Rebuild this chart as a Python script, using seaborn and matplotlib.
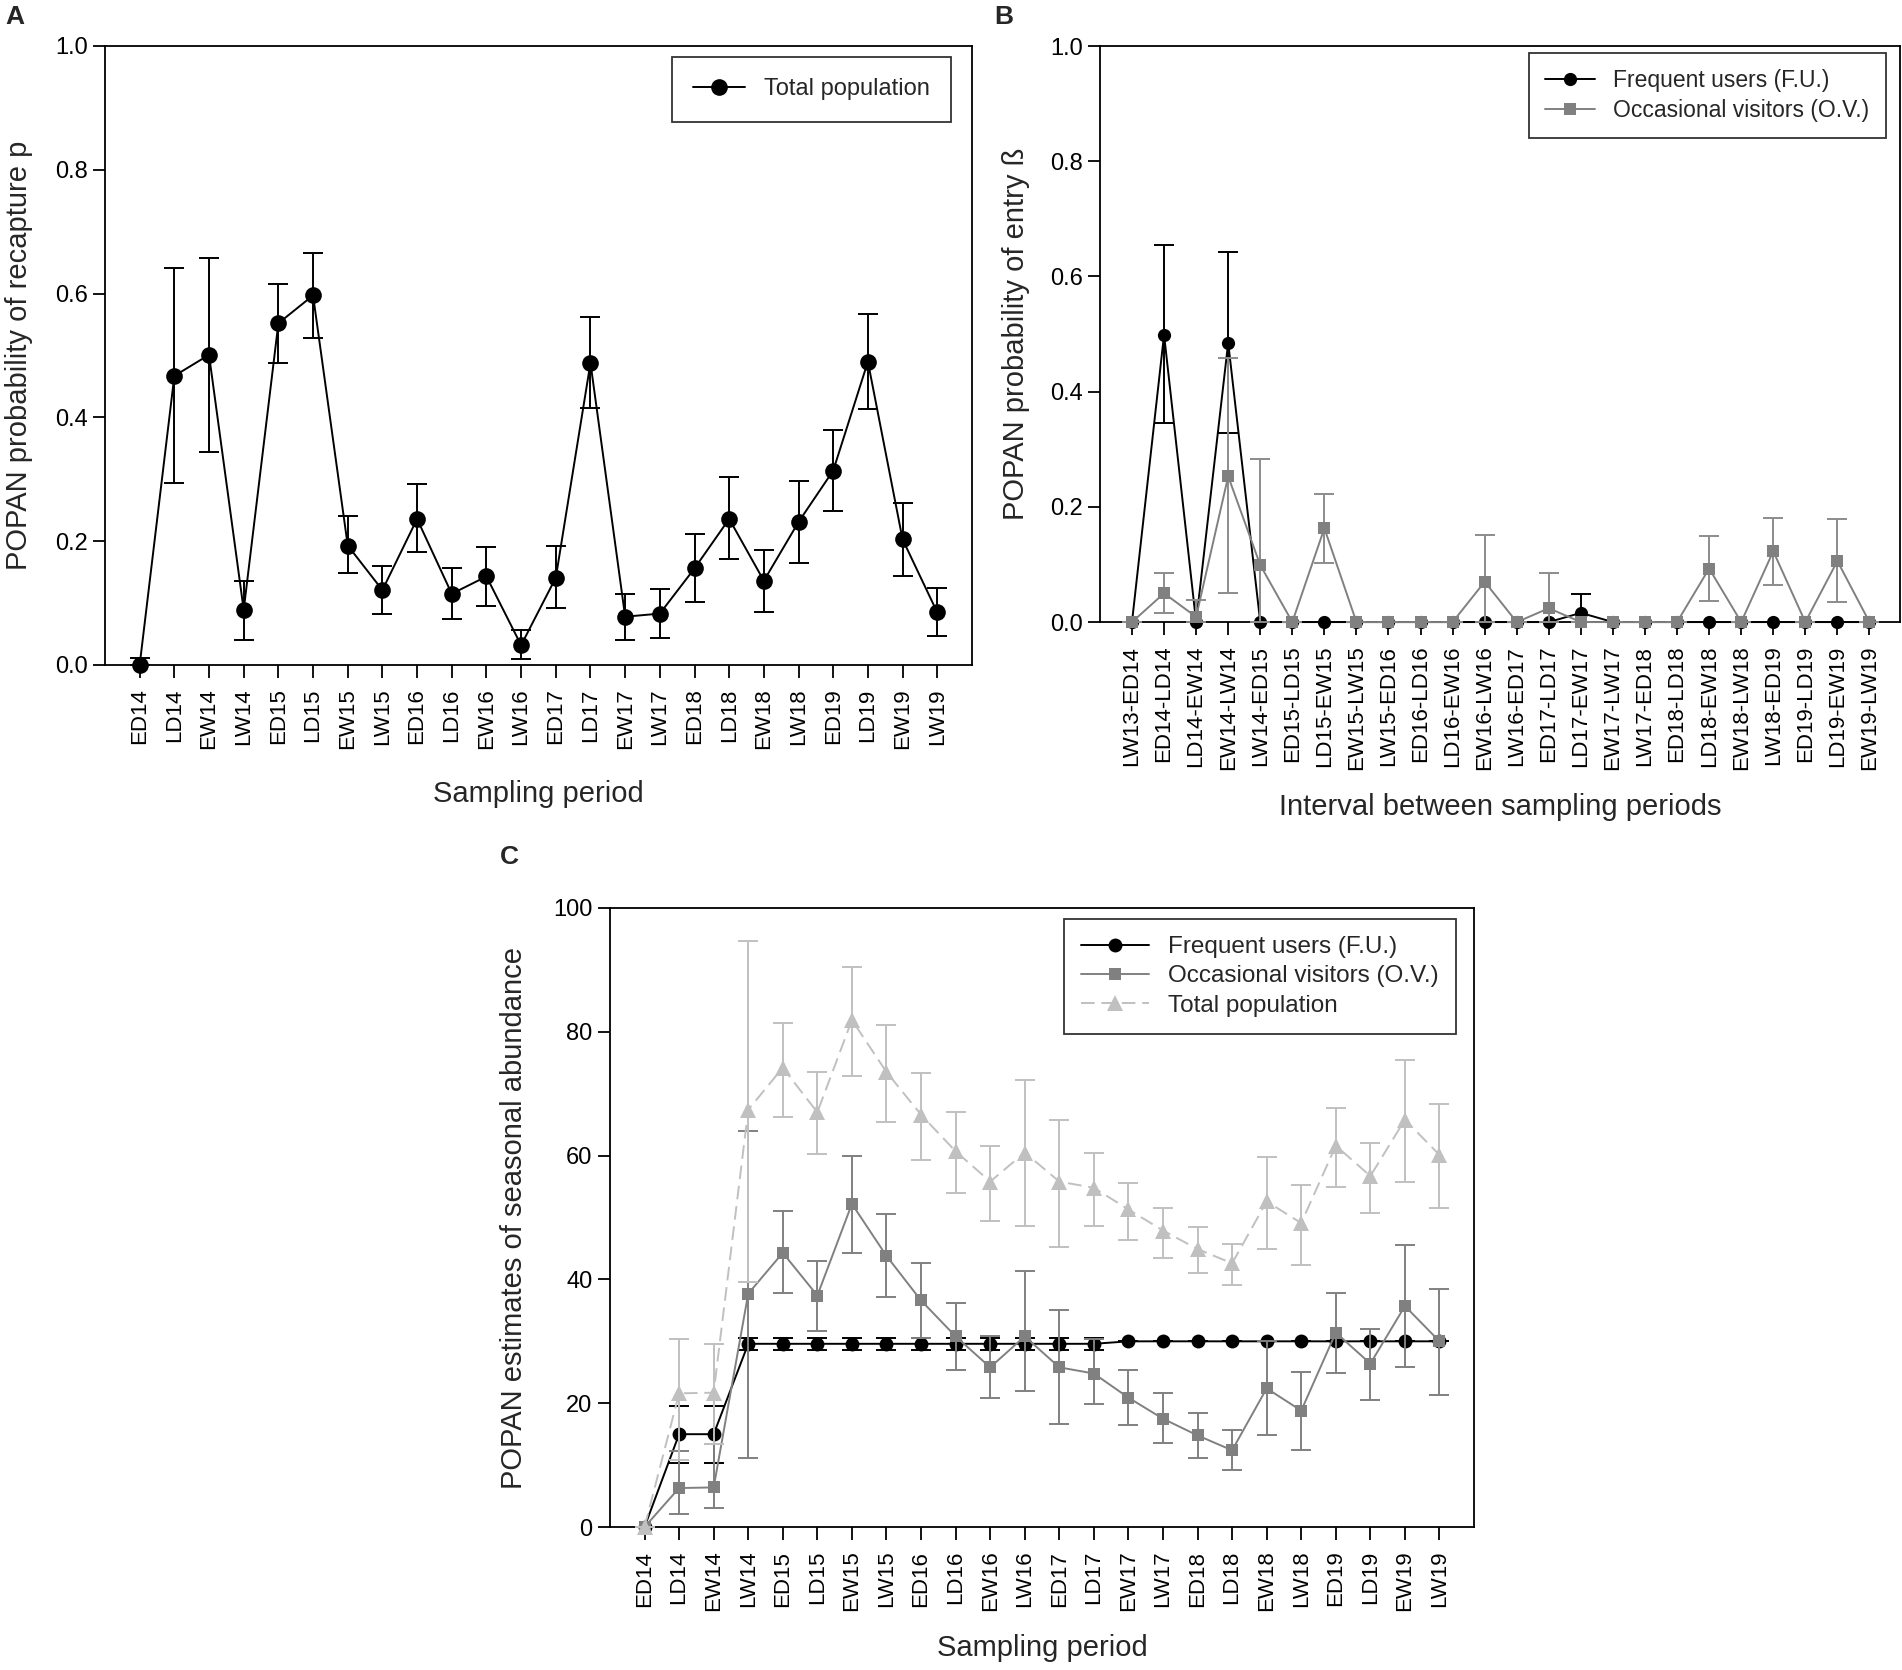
import matplotlib
matplotlib.use("Agg")
import matplotlib.pyplot as plt
import numpy as np
import pandas as pd
import seaborn as sns

sns.set_theme(style="ticks")
plt.rcParams["font.family"] = ["Liberation Sans", "DejaVu Sans"]

# ---------------- data ----------------
periods = ["ED14", "LD14", "EW14", "LW14", "ED15", "LD15", "EW15", "LW15",
           "ED16", "LD16", "EW16", "LW16", "ED17", "LD17", "EW17", "LW17",
           "ED18", "LD18", "EW18", "LW18", "ED19", "LD19", "EW19", "LW19"]
intervals = ["LW13-ED14", "ED14-LD14", "LD14-EW14", "EW14-LW14", "LW14-ED15",
             "ED15-LD15", "LD15-EW15", "EW15-LW15", "LW15-ED16", "ED16-LD16",
             "LD16-EW16", "EW16-LW16", "LW16-ED17", "ED17-LD17", "LD17-EW17",
             "EW17-LW17", "LW17-ED18", "ED18-LD18", "LD18-EW18", "EW18-LW18",
             "LW18-ED19", "ED19-LD19", "LD19-EW19", "EW19-LW19"]

# panel A: recapture probability p (total population)
p_val = [0.0, 0.467, 0.501, 0.089, 0.552, 0.597, 0.193, 0.121, 0.236, 0.115, 0.143, 0.032,
         0.141, 0.488, 0.078, 0.083, 0.156, 0.236, 0.136, 0.231, 0.314, 0.490, 0.203, 0.085]
p_low = [0.0, 0.294, 0.344, 0.040, 0.488, 0.528, 0.148, 0.083, 0.182, 0.074, 0.095, 0.009,
         0.092, 0.415, 0.041, 0.043, 0.101, 0.171, 0.085, 0.164, 0.249, 0.413, 0.144, 0.047]
p_high = [0.012, 0.642, 0.658, 0.136, 0.616, 0.665, 0.240, 0.160, 0.293, 0.156, 0.191, 0.056,
          0.192, 0.562, 0.115, 0.123, 0.211, 0.304, 0.185, 0.297, 0.379, 0.567, 0.261, 0.124]

# panel B: probability of entry
b_fu = [0, 0.499, 0, 0.485, 0, 0, 0, 0, 0, 0, 0, 0,
        0, 0, 0.016, 0, 0, 0, 0, 0, 0, 0, 0, 0]
b_fu_low = [0, 0.345, 0, 0.328, 0, 0, 0, 0, 0, 0, 0, 0,
            0, 0, 0.0, 0, 0, 0, 0, 0, 0, 0, 0, 0]
b_fu_high = [0, 0.655, 0, 0.642, 0, 0, 0, 0, 0, 0, 0, 0,
             0, 0, 0.049, 0, 0, 0, 0, 0, 0, 0, 0, 0]
b_ov = [0, 0.050, 0.009, 0.253, 0.099, 0, 0.163, 0, 0, 0, 0, 0.070,
        0, 0.024, 0, 0, 0, 0, 0.093, 0, 0.123, 0, 0.106, 0]
b_ov_low = [0, 0.015, 0.0, 0.050, 0.0, 0, 0.102, 0, 0, 0, 0, 0.0,
            0, 0.0, 0, 0, 0, 0, 0.037, 0, 0.064, 0, 0.035, 0]
b_ov_high = [0, 0.085, 0.038, 0.458, 0.283, 0, 0.223, 0, 0, 0, 0, 0.152,
             0, 0.085, 0, 0, 0, 0, 0.150, 0, 0.181, 0, 0.179, 0]

# panel C: seasonal abundance
c_fu = [0, 15.0, 15.0, 29.6, 29.6, 29.6, 29.6, 29.6, 29.6, 29.6, 29.6, 29.6,
        29.6, 29.6, 30.0, 30.0, 30.0, 30.0, 30.0, 30.0, 30.0, 30.0, 30.0, 30.0]
c_fu_low = [0, 10.4, 10.4, 28.6, 28.6, 28.6, 28.6, 28.6, 28.6, 28.6, 28.6, 28.6,
            28.6, 28.6, 30.0, 30.0, 30.0, 30.0, 30.0, 30.0, 30.0, 30.0, 30.0, 30.0]
c_fu_high = [0, 19.6, 19.6, 30.6, 30.6, 30.6, 30.6, 30.6, 30.6, 30.6, 30.6, 30.6,
             30.6, 30.6, 30.0, 30.0, 30.0, 30.0, 30.0, 30.0, 30.0, 30.0, 30.0, 30.0]
c_ov = [0, 6.3, 6.4, 37.7, 44.3, 37.4, 52.2, 43.8, 36.6, 30.8, 25.8, 30.8,
        25.8, 24.8, 20.9, 17.5, 14.8, 12.4, 22.4, 18.8, 31.4, 26.4, 35.7, 30.0]
c_ov_low = [0, 2.1, 3.1, 11.1, 37.8, 31.6, 44.3, 37.1, 30.5, 25.4, 20.9, 22.0,
            16.6, 19.9, 16.5, 13.5, 11.2, 9.2, 14.9, 12.4, 24.9, 20.6, 25.8, 21.3]
c_ov_high = [0, 12.3, 13.4, 64.0, 51.0, 42.9, 60.0, 50.5, 42.6, 36.2, 30.8, 41.4,
             35.0, 30.3, 25.4, 21.7, 18.4, 15.7, 30.0, 25.1, 37.8, 32.0, 45.5, 38.4]
c_tp = [0, 21.6, 21.7, 67.4, 74.2, 67.0, 81.9, 73.5, 66.6, 60.7, 55.8, 60.5,
        55.8, 54.8, 51.3, 47.9, 44.9, 42.6, 52.6, 49.1, 61.6, 56.7, 65.8, 60.1]
c_tp_low = [0, 10.8, 13.4, 39.6, 66.3, 60.2, 72.8, 65.5, 59.3, 54.0, 49.5, 48.7,
            45.3, 48.6, 46.4, 43.5, 41.1, 39.1, 44.9, 42.4, 54.9, 50.7, 55.7, 51.5]
c_tp_high = [0, 30.4, 29.6, 94.7, 81.4, 73.5, 90.4, 81.1, 73.3, 67.0, 61.6, 72.2,
             65.8, 60.5, 55.5, 51.6, 48.4, 45.8, 59.7, 55.2, 67.7, 62.1, 75.5, 68.4]

BLACK = "#000000"
GREY = "#808080"
LIGHT = "#c0c0c0"


def series(ax, labels, vals, lows, highs, color, marker, ms, label, ecolor=None,
           ls="-", lw=1.4, zorder=2):
    df = pd.DataFrame({"pos": np.arange(len(labels)), "value": vals})
    sns.lineplot(data=df, x="pos", y="value", ax=ax, color=color, marker=marker,
                 markersize=ms, markeredgewidth=0, linewidth=lw, linestyle=ls,
                 label=label, zorder=zorder + 0.5, clip_on=False)
    err = np.array([np.array(vals) - np.array(lows), np.array(highs) - np.array(vals)])
    ax.errorbar(df["pos"], df["value"], yerr=err, fmt="none",
                ecolor=ecolor or color, elinewidth=1.4, capsize=7, capthick=1.4,
                zorder=zorder)


def style_axis(ax, labels, ylim, yticks, yfmt, xlabel, ylabel, xpad, ypad, right=24):
    ax.set_xlim(-1, right)
    ax.set_ylim(*ylim)
    ax.set_yticks(yticks)
    ax.set_yticklabels([yfmt.format(t) for t in yticks], fontsize=17)
    ax.set_xticks(range(len(labels)))
    ax.set_xticklabels(labels, rotation=90, fontsize=16)
    ax.tick_params(direction="out", length=9, width=1.3, colors="black")
    ax.tick_params(axis="x", pad=8)
    for s in ax.spines.values():
        s.set_visible(True)
        s.set_linewidth(1.3)
        s.set_color("black")
        s.set_zorder(1)
    ax.set_xlabel(xlabel, fontsize=21, labelpad=xpad)
    ax.set_ylabel(ylabel, fontsize=21, labelpad=ypad)


fig = plt.figure(figsize=(19.02, 16.7), dpi=100)

# ---------------- A ----------------
axA = fig.add_axes([0.0552, 0.6018, 0.4558, 0.3707])
series(axA, periods, p_val, p_low, p_high, BLACK, "o", 12, "Total population")
style_axis(axA, periods, (0, 1.0), [0, 0.2, 0.4, 0.6, 0.8, 1.0], "{:.1f}",
           "Sampling period", "POPAN probability of recapture p", 22, 16)
axA.legend(loc="upper right", bbox_to_anchor=(0.976, 0.982), borderaxespad=0,
           fontsize=17, frameon=True, fancybox=False, edgecolor="black",
           handlelength=2.2, borderpad=0.9).get_frame().set_linewidth(1.3)

# ---------------- B ----------------
axB = fig.add_axes([0.5783, 0.6275, 0.4206, 0.3449])
series(axB, intervals, b_fu, b_fu_low, b_fu_high, BLACK, "o", 9.5,
       "Frequent users (F.U.)", zorder=2)
series(axB, intervals, b_ov, b_ov_low, b_ov_high, GREY, "s", 9,
       "Occasional visitors (O.V.)", ecolor="#8c8c8c", zorder=3)
style_axis(axB, intervals, (0, 1.0), [0, 0.2, 0.4, 0.6, 0.8, 1.0], "{:.1f}",
           "Interval between sampling periods", "POPAN probability of entry ß", 16, 14,
           right=23.95)
axB.legend(loc="upper right", bbox_to_anchor=(0.982, 0.988), borderaxespad=0,
           fontsize=16.5, frameon=True, fancybox=False, edgecolor="black",
           handlelength=2.2, borderpad=0.7, labelspacing=0.3).get_frame().set_linewidth(1.3)

# ---------------- C ----------------
axC = fig.add_axes([0.3207, 0.0856, 0.4543, 0.3707])
series(axC, periods, c_fu, c_fu_low, c_fu_high, BLACK, "o", 10,
       "Frequent users (F.U.)", zorder=2)
series(axC, periods, c_ov, c_ov_low, c_ov_high, GREY, "s", 9,
       "Occasional visitors (O.V.)", zorder=3)
series(axC, periods, c_tp, c_tp_low, c_tp_high, LIGHT, "^", 11,
       "Total population", ls=(0, (7, 3.5)), zorder=4)
style_axis(axC, periods, (0, 100), [0, 20, 40, 60, 80, 100], "{:d}",
           "Sampling period", "POPAN estimates of seasonal abundance", 16, 18)
axC.legend(loc="upper right", bbox_to_anchor=(0.979, 0.982), borderaxespad=0,
           fontsize=17.5, frameon=True, fancybox=False, edgecolor="black",
           handlelength=2.8, borderpad=0.7, labelspacing=0.3).get_frame().set_linewidth(1.3)

# panel letters
fig.text(0.003, 0.997, "A", fontsize=19, fontweight="bold", va="top", ha="left")
fig.text(0.523, 0.997, "B", fontsize=19, fontweight="bold", va="top", ha="left")
fig.text(0.263, 0.494, "C", fontsize=19, fontweight="bold", va="top", ha="left")

fig.savefig("out.png", dpi=100)
